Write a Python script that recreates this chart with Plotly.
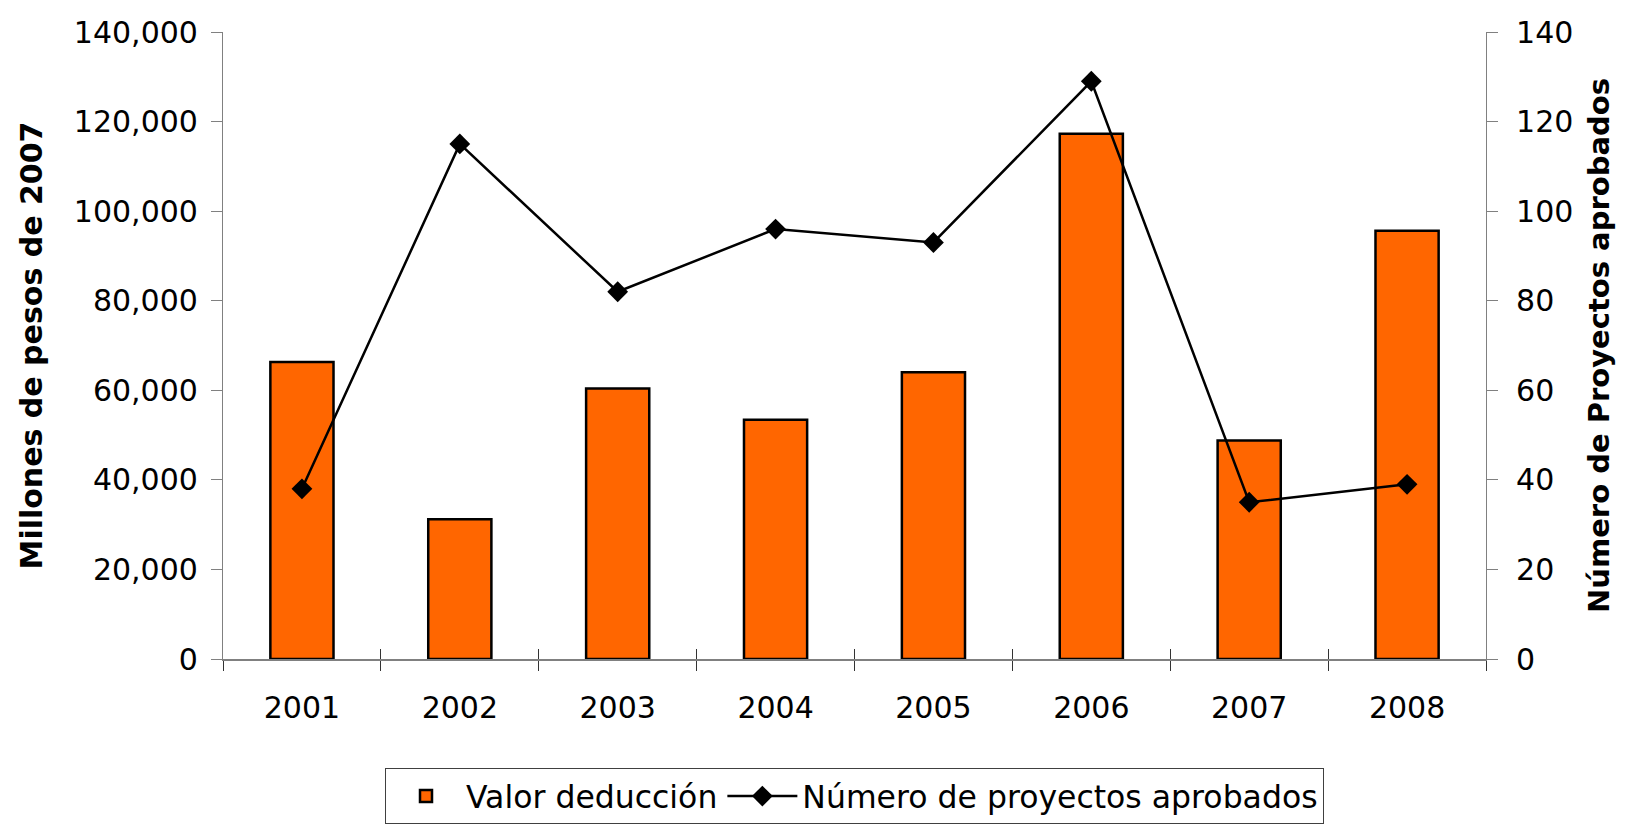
import plotly.graph_objects as go

years = ["2001", "2002", "2003", "2004", "2005", "2006", "2007", "2008"]
valor_deduccion = [66300, 31200, 60400, 53400, 64000, 117300, 48800, 95600]
num_proyectos = [38, 115, 82, 96, 93, 129, 35, 39]
left_ticks = [0, 20000, 40000, 60000, 80000, 100000, 120000, 140000]
right_ticks = [0, 20, 40, 60, 80, 100, 120, 140]

FONT = "DejaVu Sans, Liberation Sans, sans-serif"
AX = "#808080"

fig = go.Figure()
fig.add_trace(go.Bar(
    x=years, y=valor_deduccion, name="Valor deducción",
    marker=dict(color="#FF6600", line=dict(color="black", width=2.5)),
    xaxis="x", yaxis="y",
))
fig.add_trace(go.Scatter(
    x=years, y=num_proyectos, name="Número de proyectos aprobados",
    mode="lines+markers",
    line=dict(color="black", width=2.5),
    marker=dict(symbol="diamond", size=16, color="black"),
    xaxis="x2", yaxis="y2",
))

tickfont = dict(family=FONT, size=30, color="black")
titlefont = dict(family=FONT, size=30, color="black", weight="bold")

fig.update_layout(
    width=1627, height=825,
    margin=dict(l=223, r=141, t=32, b=166, autoexpand=False),
    paper_bgcolor="white", plot_bgcolor="white",
    bargap=0.6,
    showlegend=True,
    legend=dict(
        orientation="h", x=0.5, xanchor="center", y=-0.174, yanchor="top",
        font=dict(family=FONT, size=31.5, color="black"),
        bordercolor="#404040", borderwidth=1, bgcolor="white",
        itemwidth=70,
    ),
    xaxis=dict(
        type="category", categoryarray=years, range=[-0.5, 7.5],
        tickson="boundaries", ticks="outside", ticklen=10, tickwidth=1.2, tickcolor="#333333",
        showline=True, linecolor=AX, linewidth=2, showgrid=False, zeroline=False,
        tickfont=tickfont, ticklabelstandoff=21, fixedrange=True,
    ),
    xaxis2=dict(
        type="category", categoryarray=years, range=[-0.5, 7.5], overlaying="x", anchor="y2",
        tickson="boundaries", ticks="inside", ticklen=10, tickwidth=1.2, tickcolor="#333333",
        showticklabels=False, showline=False, showgrid=False, zeroline=False,
    ),
    yaxis=dict(
        range=[0, 140000], tickvals=left_ticks, tickformat=",",
        ticks="outside", ticklen=11, tickwidth=1.2, tickcolor=AX,
        showline=True, linecolor=AX, linewidth=1.2, showgrid=False, zeroline=False,
        tickfont=tickfont, ticklabelstandoff=7,
        title=dict(text="Millones de pesos de 2007", font=titlefont, standoff=22),
    ),
    yaxis2=dict(
        range=[0, 140], tickvals=right_ticks, overlaying="y", side="right", anchor="x",
        ticks="outside", ticklen=11, tickwidth=1.2, tickcolor=AX,
        showline=True, linecolor=AX, linewidth=1.2, showgrid=False, zeroline=False,
        tickfont=tickfont, ticklabelstandoff=12,
        title=dict(text="Número de Proyectos aprobados", font=dict(family=FONT, size=29, color="black", weight="bold"), standoff=16),
    ),
    yaxis3=dict(
        range=[0, 140000], tickvals=left_ticks, overlaying="y", side="left", anchor="x",
        ticks="inside", ticklen=11, tickwidth=1.2, tickcolor=AX,
        showticklabels=False, showline=False, showgrid=False, zeroline=False,
    ),
    yaxis4=dict(
        range=[0, 140], tickvals=right_ticks, overlaying="y", side="right", anchor="x",
        ticks="inside", ticklen=11, tickwidth=1.2, tickcolor=AX,
        showticklabels=False, showline=False, showgrid=False, zeroline=False,
    ),
)

fig.write_html(
    "out.html",
    config={"displayModeBar": False},
    post_script="document.body.style.margin='0';document.body.style.overflow='hidden';",
)
